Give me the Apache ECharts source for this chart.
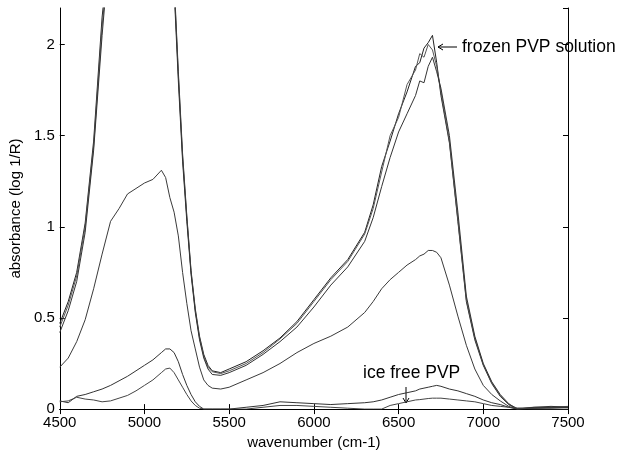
<!DOCTYPE html>
<html>
<head>
<meta charset="utf-8">
<script src="https://cdn.jsdelivr.net/npm/echarts@6/dist/echarts.min.js"></script>
<style>
  html, body { margin: 0; padding: 0; background: #fff; }
  #chart { width: 624px; height: 455px; }
</style>
</head>
<body>
<div id="chart"></div>
<script>
// wavenumber grid (cm-1), shared by every spectrum
var wavenumbers = [4500, 4550, 4600, 4650, 4700, 4750, 4800,
  4850, 4900, 4950, 5000, 5050, 5100,
  5125, 5150, 5175, 5200, 5225, 5250, 5275, 5300, 5325, 5350, 5375, 5400,
  5450, 5500,
  5600, 5700, 5800, 5900, 6000, 6100, 6200, 6300,
  6350, 6400, 6450, 6500, 6550, 6600,
  6625, 6650, 6675, 6700, 6725, 6750,
  6800, 6850, 6900, 6950, 7000, 7050, 7100, 7150, 7200,
  7300, 7400, 7500];

// frozen PVP solution (three scans, saturated around the 5000 band)
var frozen1 = [0.47, 0.59, 0.75, 1.02, 1.47, 2.15, 2.6,
  2.6, 2.6, 2.6, 2.6, 2.6, 2.6,
  2.6, 2.6, 2.35, 1.85, 1.40, 1.06, 0.76, 0.55, 0.40, 0.30, 0.24, 0.21,
  0.20, 0.22,
  0.26, 0.32, 0.39, 0.48, 0.60, 0.72, 0.82, 0.97,
  1.12, 1.33, 1.47, 1.62, 1.74, 1.88,
  1.90, 1.98, 2.01, 2.05, 1.90, 1.72,
  1.46, 1.03, 0.59, 0.38, 0.24, 0.14, 0.07, 0.025, 0.0,
  0.005, 0.01, 0.01];
var frozen2 = [0.45, 0.57, 0.73, 1.00, 1.44, 2.10, 2.6,
  2.6, 2.6, 2.6, 2.6, 2.6, 2.6,
  2.6, 2.6, 2.33, 1.83, 1.38, 1.05, 0.75, 0.54, 0.39, 0.29, 0.23, 0.205,
  0.195, 0.21,
  0.25, 0.31, 0.385, 0.47, 0.59, 0.71, 0.81, 0.96,
  1.10, 1.30, 1.50, 1.60, 1.78, 1.86,
  1.95, 1.93, 2.00, 1.97, 1.88, 1.74,
  1.47, 1.04, 0.60, 0.39, 0.245, 0.145, 0.075, 0.025, 0.005,
  0.01, 0.01, 0.015];
var frozen3 = [0.42, 0.54, 0.70, 0.97, 1.42, 2.05, 2.6,
  2.6, 2.6, 2.6, 2.6, 2.6, 2.6,
  2.6, 2.6, 2.30, 1.80, 1.36, 1.03, 0.74, 0.53, 0.38, 0.28, 0.22, 0.19,
  0.185, 0.20,
  0.24, 0.30, 0.37, 0.45, 0.56, 0.68, 0.78, 0.92,
  1.05, 1.22, 1.38, 1.52, 1.62, 1.72,
  1.80, 1.79, 1.88, 1.93, 1.85, 1.76,
  1.50, 1.08, 0.62, 0.40, 0.25, 0.15, 0.08, 0.03, 0.0,
  0.005, 0.005, 0.01];

// intermediate spectrum
var partial = [0.23, 0.28, 0.37, 0.49, 0.66, 0.85, 1.03,
  1.10, 1.18, 1.21, 1.24, 1.26, 1.31,
  1.27, 1.16, 1.08, 0.95, 0.75, 0.58, 0.43, 0.33, 0.23, 0.16, 0.13, 0.115,
  0.11, 0.12,
  0.16, 0.20, 0.25, 0.31, 0.36, 0.40, 0.45, 0.53,
  0.59, 0.66, 0.71, 0.75, 0.79, 0.82,
  0.84, 0.85, 0.87, 0.87, 0.86, 0.83,
  0.68, 0.51, 0.35, 0.22, 0.13, 0.08, 0.045, 0.015, 0.0,
  0.005, 0.01, 0.01];

// ice free PVP
var iceFree1 = [0.045, 0.035, 0.07, 0.08, 0.095, 0.11, 0.13,
  0.155, 0.18, 0.21, 0.24, 0.27, 0.31,
  0.33, 0.33, 0.31, 0.26, 0.19, 0.13, 0.08, 0.04, 0.015, 0.0, 0.0, 0.0,
  0.0, 0.0,
  0.01, 0.02, 0.04, 0.035, 0.03, 0.025, 0.03, 0.035,
  0.04, 0.05, 0.065, 0.08, 0.09, 0.10,
  0.11, 0.115, 0.12, 0.125, 0.13, 0.125,
  0.11, 0.10, 0.085, 0.07, 0.05, 0.035, 0.025, 0.01, 0.0,
  0.01, 0.015, 0.01];
var iceFree2 = [0.04, 0.045, 0.065, 0.055, 0.05, 0.04, 0.045,
  0.06, 0.075, 0.10, 0.13, 0.16, 0.20,
  0.22, 0.225, 0.20, 0.16, 0.12, 0.08, 0.045, 0.02, 0.005, 0.0, 0.0, 0.0,
  0.0, 0.0,
  0.0, 0.01, 0.02, 0.02, 0.015, 0.01, 0.005, 0.0,
  0.0, 0.0, 0.02, 0.03, 0.04, 0.05,
  0.052, 0.055, 0.058, 0.06, 0.06, 0.06,
  0.055, 0.05, 0.045, 0.04, 0.03, 0.02, 0.015, 0.01, 0.005,
  0.0, 0.0, 0.0];

var spectra = [frozen1, frozen2, frozen3, partial, iceFree1, iceFree2];
var lineColors = ["#222", "#555", "#333", "#3a3a3a", "#333", "#444"];

function pairs(vals) {
  return wavenumbers.map(function (w, i) { return [w, vals[i]]; });
}

var font = "'Liberation Sans', Arial, sans-serif";

var myChart = echarts.init(document.getElementById("chart"));
myChart.setOption({
  animation: false,
  backgroundColor: "#fff",
  grid: { left: 57, right: 56, top: 8, bottom: 45 },
  xAxis: [
    {
      type: "value",
      min: 4500,
      max: 7500,
      interval: 500,
      name: "wavenumber (cm-1)",
      nameLocation: "middle",
      nameGap: 24,
      nameTextStyle: { color: "#000", fontSize: 15, fontFamily: font },
      axisLine: { lineStyle: { color: "#000", width: 1 } },
      axisTick: { inside: true, length: 5, lineStyle: { color: "#000" } },
      axisLabel: {
        color: "#000",
        fontSize: 15,
        fontFamily: font,
        margin: 6,
        formatter: function (v) { return String(v); }
      },
      splitLine: { show: false }
    },
    {
      type: "value",
      position: "top",
      min: 4500,
      max: 7500,
      interval: 500,
      axisLine: { lineStyle: { color: "#000", width: 1 } },
      axisTick: { inside: true, length: 5, lineStyle: { color: "#000" } },
      axisLabel: { show: false },
      splitLine: { show: false }
    }
  ],
  yAxis: [
    {
      type: "value",
      min: 0,
      max: 2.2,
      interval: 0.5,
      name: "absorbance (log 1/R)",
      nameLocation: "middle",
      nameGap: 28,
      nameTextStyle: { color: "#000", fontSize: 15, fontFamily: font },
      axisLine: { show: true, lineStyle: { color: "#000", width: 1 } },
      axisTick: { show: true, inside: true, length: 5, lineStyle: { color: "#000" } },
      axisLabel: {
        color: "#000",
        fontSize: 15,
        fontFamily: font,
        margin: 5,
        showMaxLabel: false,
        formatter: function (v) {
          return Math.abs(v * 2 - Math.round(v * 2)) < 1e-6 ? String(v) : "";
        }
      },
      splitLine: { show: false }
    },
    {
      type: "value",
      position: "right",
      min: 0,
      max: 2.2,
      interval: 0.5,
      axisLine: { show: true, lineStyle: { color: "#000", width: 1 } },
      axisTick: { show: true, inside: true, length: 5, lineStyle: { color: "#000" } },
      axisLabel: { show: false },
      splitLine: { show: false }
    }
  ],
  series: spectra.map(function (vals, k) {
    return {
      type: "line",
      data: pairs(vals),
      showSymbol: false,
      clip: true,
      lineStyle: { color: lineColors[k], width: 1 }
    };
  }),
  graphic: [
    // arrow to the frozen solution peak
    { type: "line", shape: { x1: 438, y1: 47, x2: 457, y2: 47 }, style: { stroke: "#000", lineWidth: 1 } },
    { type: "polyline", shape: { points: [[443, 44], [438, 47], [443, 50]] }, style: { stroke: "#000", lineWidth: 1, fill: null } },
    { type: "text", left: 462, top: 38, style: { text: "frozen PVP solution", fontSize: 17.5, fontFamily: font, fill: "#000" } },
    // arrow to the ice free spectrum
    { type: "text", left: 363, top: 364, style: { text: "ice free PVP", fontSize: 17.5, fontFamily: font, fill: "#000" } },
    { type: "line", shape: { x1: 406, y1: 387, x2: 406, y2: 403 }, style: { stroke: "#000", lineWidth: 1 } },
    { type: "polyline", shape: { points: [[403, 398], [406, 403], [409, 398]] }, style: { stroke: "#000", lineWidth: 1, fill: null } }
  ]
});
</script>
</body>
</html>
